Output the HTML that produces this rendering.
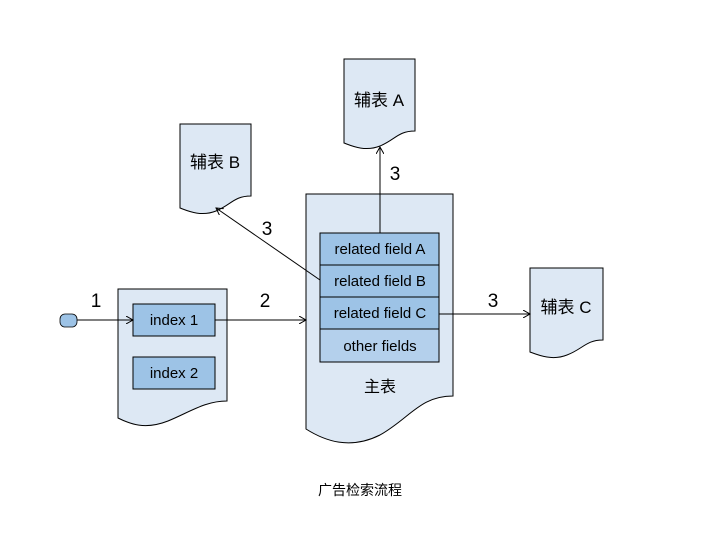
<!DOCTYPE html>
<html><head><meta charset="utf-8"><style>
body{margin:0;background:#fff}
svg text{font-family:"Liberation Sans","Noto Sans CJK SC",sans-serif;fill:#000}
</style></head><body>
<svg width="720" height="540" viewBox="0 0 720 540" xmlns="http://www.w3.org/2000/svg">
<defs><marker id="a" markerWidth="8" markerHeight="8" refX="7" refY="4" orient="auto" markerUnits="userSpaceOnUse"><path d="M0,0 L7,4 L0,8" fill="none" stroke="#000" stroke-width="1"/></marker></defs>
<g fill="#dde8f4" stroke="#000" stroke-width="1">
<path d="M344,59 H415 V131 C398,131 395,140 380,146 C365,152 352,146 344,143 Z"/>
<path d="M180,124 H251 V196 C234,196 231,205 216,211 C201,217 188,211 180,208 Z"/>
<path d="M530,268 H603 V340 C586,340 583,349 567,355 C552,361 538,355 530,352 Z"/>
<path d="M118,289 H227 V401 C205,401 190,412 168,421 C145,430 130,424 118,418 Z"/>
<path d="M306,194 H453 V396 C420,396 410,418 380,435 C350,450 325,441 306,429 Z"/>
</g>
<g fill="#9dc3e6" stroke="#000" stroke-width="1">
<rect x="133" y="304" width="82" height="32"/>
<rect x="133" y="357" width="82" height="32"/>
<rect x="320" y="233" width="119" height="32"/>
<rect x="320" y="265" width="119" height="32"/>
<rect x="320" y="297" width="119" height="32"/>
<rect x="320" y="329" width="119" height="33" fill="#b4d0ec"/>
</g>
<rect x="60" y="314" width="17" height="13" rx="5" fill="#9dc3e6" stroke="#000" stroke-width="0.8"/>
<g stroke="#000" stroke-width="1" fill="none">
<line x1="77" y1="320" x2="133" y2="320" marker-end="url(#a)"/>
<line x1="215" y1="320" x2="306" y2="320" marker-end="url(#a)"/>
<line x1="439" y1="314" x2="530" y2="314" marker-end="url(#a)"/>
<line x1="380" y1="233" x2="380" y2="147" marker-end="url(#a)"/>
<line x1="320" y1="280" x2="216" y2="208" marker-end="url(#a)"/>
</g>
<g font-size="15" text-anchor="middle">
<text x="174" y="325">index 1</text>
<text x="174" y="378">index 2</text>
<text x="380" y="254">related field A</text>
<text x="380" y="286">related field B</text>
<text x="380" y="318">related field C</text>
<text x="380" y="351">other fields</text>
<text x="380" y="392" font-size="16">主表</text>
<text x="379" y="106" font-size="17">辅表 A</text>
<text x="215" y="168" font-size="17">辅表 B</text>
<text x="566" y="313" font-size="17">辅表 C</text>
<text x="96" y="307" font-size="19">1</text>
<text x="265" y="307" font-size="19">2</text>
<text x="267" y="235" font-size="19">3</text>
<text x="395" y="180" font-size="19">3</text>
<text x="493" y="307" font-size="19">3</text>
<text x="360" y="495" font-size="14">广告检索流程</text>
</g>
</svg>
</body></html>
